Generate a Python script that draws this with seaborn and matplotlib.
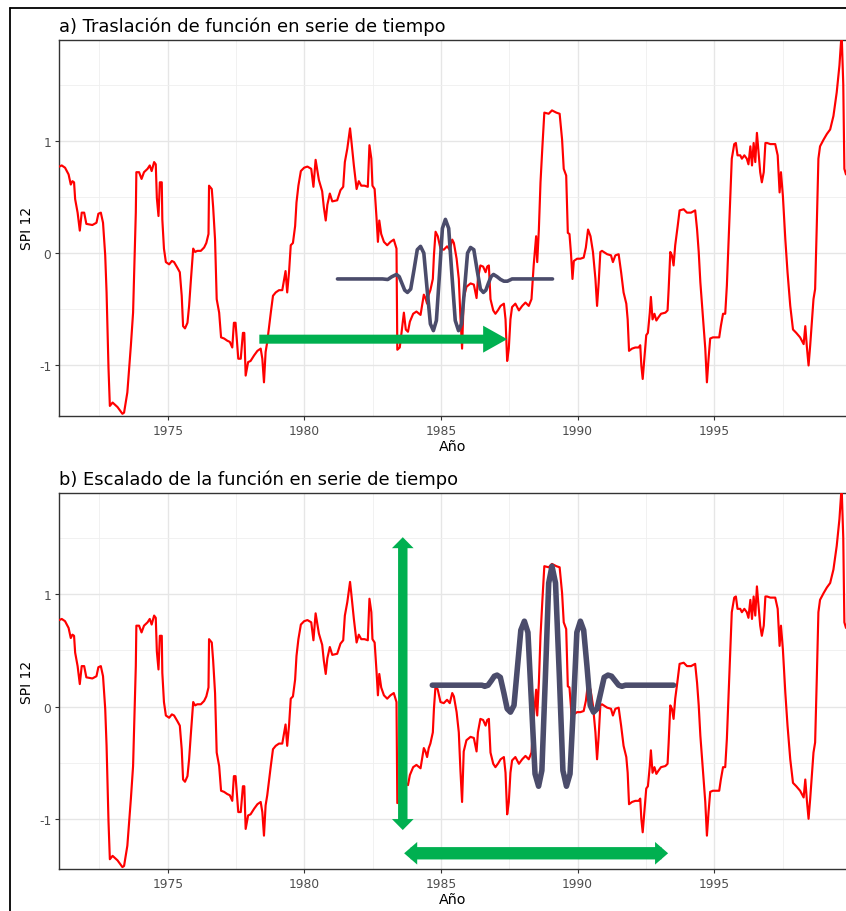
import matplotlib
matplotlib.use("Agg")
import matplotlib.pyplot as plt
import pandas as pd
import seaborn as sns
from matplotlib.patches import FancyArrowPatch, ArrowStyle
from matplotlib.lines import Line2D

# ---------------- data ----------------
spi_year = [
    1971.03, 1971.12, 1971.24, 1971.37, 1971.45, 1971.51, 1971.57, 1971.61, 1971.70, 1971.78,
    1971.85, 1971.94, 1972.02, 1972.24, 1972.39, 1972.46, 1972.55, 1972.63, 1972.71, 1972.76,
    1972.83, 1972.88, 1972.98, 1973.16, 1973.34, 1973.40, 1973.52, 1973.65, 1973.73, 1973.79,
    1973.83, 1973.85, 1973.95, 1974.04, 1974.13, 1974.26, 1974.34, 1974.41, 1974.50, 1974.56,
    1974.60, 1974.66, 1974.71, 1974.78, 1974.80, 1974.86, 1974.93, 1975.05, 1975.15, 1975.23,
    1975.35, 1975.44, 1975.51, 1975.56, 1975.63, 1975.72, 1975.78, 1975.84, 1975.93, 1976.00,
    1976.08, 1976.21, 1976.33, 1976.41, 1976.49, 1976.51, 1976.61, 1976.66, 1976.73, 1976.79,
    1976.88, 1976.95, 1977.06, 1977.18, 1977.27, 1977.36, 1977.42, 1977.48, 1977.58, 1977.67,
    1977.75, 1977.80, 1977.85, 1977.94, 1978.03, 1978.16, 1978.28, 1978.40, 1978.46, 1978.52,
    1978.58, 1978.64, 1978.77, 1978.85, 1978.95, 1979.07, 1979.19, 1979.31, 1979.37, 1979.44,
    1979.50, 1979.58, 1979.66, 1979.71, 1979.78, 1979.87, 1979.99, 1980.11, 1980.25, 1980.33,
    1980.41, 1980.53, 1980.65, 1980.71, 1980.78, 1980.84, 1980.93, 1981.02, 1981.20, 1981.32,
    1981.42, 1981.48, 1981.57, 1981.67, 1981.71, 1981.81, 1981.91, 1981.99, 1982.08, 1982.20,
    1982.32, 1982.38, 1982.45, 1982.49, 1982.57, 1982.64, 1982.69, 1982.74, 1982.81, 1982.91,
    1983.03, 1983.15, 1983.27, 1983.37, 1983.40, 1983.49, 1983.58, 1983.64, 1983.71, 1983.79,
    1983.86, 1983.98, 1984.10, 1984.25, 1984.37, 1984.43, 1984.49, 1984.55, 1984.61, 1984.70,
    1984.74, 1984.80, 1984.88, 1984.98, 1985.10, 1985.22, 1985.32, 1985.41, 1985.47, 1985.57,
    1985.65, 1985.71, 1985.77, 1985.83, 1985.93, 1986.08, 1986.20, 1986.30, 1986.35, 1986.44,
    1986.54, 1986.63, 1986.69, 1986.75, 1986.81, 1986.91, 1986.99, 1987.08, 1987.18, 1987.30,
    1987.36, 1987.42, 1987.48, 1987.54, 1987.60, 1987.72, 1987.85, 1987.97, 1988.09, 1988.21,
    1988.31, 1988.39, 1988.48, 1988.52, 1988.58, 1988.64, 1988.71, 1988.78, 1988.94, 1989.06,
    1989.22, 1989.34, 1989.43, 1989.49, 1989.58, 1989.64, 1989.70, 1989.76, 1989.81, 1989.86,
    1989.98, 1990.10, 1990.22, 1990.30, 1990.38, 1990.47, 1990.56, 1990.65, 1990.71, 1990.77,
    1990.83, 1990.89, 1991.08, 1991.22, 1991.29, 1991.38, 1991.50, 1991.59, 1991.68, 1991.78,
    1991.83, 1991.88, 1991.99, 1992.11, 1992.23, 1992.29, 1992.33, 1992.38, 1992.44, 1992.51,
    1992.57, 1992.64, 1992.68, 1992.74, 1992.81, 1992.88, 1992.96, 1993.05, 1993.21, 1993.29,
    1993.33, 1993.39, 1993.45, 1993.51, 1993.57, 1993.66, 1993.73, 1993.88, 1994.00, 1994.15,
    1994.30, 1994.37, 1994.43, 1994.49, 1994.58, 1994.67, 1994.73, 1994.79, 1994.85, 1994.95,
    1995.10, 1995.18, 1995.24, 1995.32, 1995.40, 1995.46, 1995.52, 1995.58, 1995.64, 1995.73,
    1995.79, 1995.85, 1995.95, 1996.01, 1996.10, 1996.19, 1996.25, 1996.32, 1996.38, 1996.44,
    1996.50, 1996.56, 1996.62, 1996.68, 1996.74, 1996.81, 1996.87, 1996.93, 1997.05, 1997.23,
    1997.32, 1997.39, 1997.44, 1997.51, 1997.60, 1997.68, 1997.78, 1997.88, 1998.00, 1998.14,
    1998.27, 1998.33, 1998.39, 1998.45, 1998.51, 1998.57, 1998.63, 1998.69, 1998.75, 1998.81,
    1998.87, 1999.00, 1999.12, 1999.24, 1999.36, 1999.48, 1999.58, 1999.66, 1999.72, 1999.76,
    1999.82,
]
spi_value = [
    0.77, 0.78, 0.76, 0.70, 0.61, 0.64, 0.63, 0.48, 0.36, 0.20,
    0.36, 0.36, 0.26, 0.25, 0.27, 0.35, 0.36, 0.27, -0.02, -0.35,
    -1.02, -1.36, -1.33, -1.37, -1.43, -1.42, -1.24, -0.82, -0.53, 0.00,
    0.36, 0.72, 0.72, 0.66, 0.72, 0.75, 0.78, 0.73, 0.81, 0.79,
    0.49, 0.33, 0.63, 0.63, 0.30, 0.04, -0.08, -0.10, -0.07, -0.08,
    -0.13, -0.17, -0.38, -0.65, -0.67, -0.62, -0.47, -0.26, 0.04, 0.01,
    0.02, 0.02, 0.05, 0.09, 0.17, 0.60, 0.57, 0.41, 0.12, -0.41,
    -0.53, -0.75, -0.76, -0.78, -0.79, -0.84, -0.62, -0.62, -0.94, -0.94,
    -0.71, -0.71, -1.09, -0.97, -0.96, -0.91, -0.87, -0.85, -0.94, -1.15,
    -0.88, -0.79, -0.53, -0.38, -0.35, -0.33, -0.33, -0.16, -0.35, -0.16,
    0.07, 0.09, 0.24, 0.45, 0.60, 0.73, 0.76, 0.77, 0.75, 0.59,
    0.83, 0.65, 0.55, 0.41, 0.29, 0.43, 0.53, 0.46, 0.47, 0.56,
    0.59, 0.81, 0.93, 1.11, 1.02, 0.78, 0.57, 0.64, 0.60, 0.60,
    0.59, 0.96, 0.84, 0.60, 0.57, 0.31, 0.10, 0.29, 0.17, 0.10,
    0.07, 0.10, 0.12, 0.04, -0.86, -0.84, -0.65, -0.53, -0.68, -0.70,
    -0.61, -0.54, -0.52, -0.55, -0.37, -0.40, -0.45, -0.37, -0.33, -0.23,
    -0.02, 0.19, 0.15, 0.04, 0.03, 0.06, 0.03, 0.12, 0.09, -0.05,
    -0.23, -0.57, -0.85, -0.40, -0.30, -0.27, -0.28, -0.40, -0.23, -0.11,
    -0.12, -0.17, -0.12, -0.11, -0.41, -0.51, -0.54, -0.51, -0.47, -0.45,
    -0.59, -0.96, -0.85, -0.59, -0.48, -0.45, -0.51, -0.47, -0.44, -0.47,
    -0.41, -0.11, 0.15, -0.08, 0.21, 0.63, 0.95, 1.25, 1.24, 1.27,
    1.25, 1.24, 1.01, 0.75, 0.69, 0.18, 0.17, -0.02, -0.23, -0.07,
    -0.05, -0.05, -0.04, 0.05, 0.21, 0.15, 0.01, -0.23, -0.47, -0.26,
    0.01, 0.02, -0.01, -0.02, -0.08, -0.02, -0.01, -0.17, -0.35, -0.45,
    -0.59, -0.87, -0.85, -0.84, -0.84, -0.82, -1.00, -1.12, -0.94, -0.73,
    -0.71, -0.53, -0.39, -0.59, -0.54, -0.60, -0.57, -0.54, -0.53, -0.51,
    -0.32, 0.01, -0.02, -0.11, 0.07, 0.24, 0.38, 0.39, 0.36, 0.36,
    0.38, 0.21, 0.01, -0.26, -0.56, -0.85, -1.15, -0.94, -0.76, -0.75,
    -0.75, -0.75, -0.65, -0.54, -0.54, -0.29, 0.09, 0.48, 0.84, 0.97,
    0.98, 0.87, 0.87, 0.84, 0.87, 0.84, 0.79, 0.95, 0.78, 0.98,
    0.81, 1.07, 0.89, 0.72, 0.63, 0.72, 0.98, 0.98, 0.97, 0.97,
    0.87, 0.54, 0.72, 0.51, 0.12, -0.17, -0.47, -0.68, -0.71, -0.75,
    -0.81, -0.65, -0.84, -1.00, -0.82, -0.62, -0.41, -0.32, 0.24, 0.84,
    0.95, 1.01, 1.06, 1.10, 1.22, 1.43, 1.67, 1.96, 1.50, 0.75,
    0.70,
]

# wavelet, panel a (translated)
wav_a_year = [
    1981.21, 1982.86, 1983.05, 1983.20, 1983.37, 1983.47, 1983.57, 1983.67, 1983.77,
    1983.89, 1984.01, 1984.13, 1984.25, 1984.37, 1984.49, 1984.61, 1984.72,
    1984.83, 1984.94, 1985.05, 1985.16, 1985.28, 1985.40, 1985.52, 1985.64,
    1985.75, 1985.86, 1985.97, 1986.08, 1986.20, 1986.32, 1986.44, 1986.55,
    1986.64, 1986.73, 1986.83, 1986.92, 1987.05, 1987.18, 1987.30, 1987.43,
    1987.60, 1989.08,
]
wav_a_value = [
    -0.23, -0.23, -0.235, -0.21, -0.19, -0.21, -0.27, -0.33, -0.35,
    -0.32, -0.15, 0.03, 0.06, 0.00, -0.32, -0.63, -0.69,
    -0.60, -0.20, 0.22, 0.30, 0.22, -0.20, -0.60, -0.69,
    -0.63, -0.32, 0.00, 0.05, 0.03, -0.15, -0.32, -0.35,
    -0.33, -0.27, -0.21, -0.19, -0.21, -0.235, -0.25, -0.25,
    -0.23, -0.23,
]

# wavelet, panel b (scaled)
wav_b_year = [
    1984.68, 1986.50, 1986.60, 1986.72, 1986.84, 1986.95, 1987.05, 1987.17, 1987.30,
    1987.42, 1987.54, 1987.67, 1987.80, 1987.92, 1988.05, 1988.18, 1988.31, 1988.44,
    1988.57, 1988.69, 1988.82, 1988.94, 1989.06, 1989.19, 1989.33, 1989.46, 1989.59,
    1989.72, 1989.85, 1989.97, 1990.10, 1990.22, 1990.34, 1990.46, 1990.58, 1990.71,
    1990.84, 1990.97, 1991.11, 1991.24, 1991.37, 1991.50, 1991.62, 1991.75, 1993.51,
]
wav_b_value = [
    0.19, 0.19, 0.18, 0.19, 0.23, 0.27, 0.28, 0.26, 0.12,
    -0.02, -0.05, 0.01, 0.36, 0.68, 0.76, 0.66, 0.03, -0.60,
    -0.71, -0.57, 0.27, 1.10, 1.25, 1.10, 0.27, -0.57, -0.71,
    -0.60, 0.03, 0.66, 0.76, 0.68, 0.36, 0.01, -0.05, -0.02,
    0.12, 0.26, 0.28, 0.27, 0.23, 0.19, 0.18, 0.19, 0.19,
]

panel_titles = ["a) Traslación de función en serie de tiempo",
                "b) Escalado de la función en serie de tiempo"]
x_label = "Año"
y_label = "SPI 12"
x_major = [1975, 1980, 1985, 1990, 1995]
x_minor = [1972.5, 1977.5, 1982.5, 1987.5, 1992.5, 1997.5]
y_major = [-1, 0, 1]
y_minor = [-0.5, 0.5, 1.5]
x_range = (1971.03, 1999.82)
y_range = (-1.447, 1.899)

# annotation arrows (data coordinates)
arrow_a = (1978.35, -0.766, 1987.42, -0.766)          # x0, y, x1, y
arrow_b_vertical = (1983.60, -1.100, 1.508)           # x, y_bottom, y_top
arrow_b_horizontal = (-1.307, 1983.65, 1993.31)       # y, x_left, x_right

# ---------------- styling ----------------
sns.set_theme(style="white")
plt.rcParams["font.family"] = ["DejaVu Sans"]

RED = "#ff0000"
WAVE = "#4b4c6b"
GREEN = "#00b050"

W, H = 846, 912
DPI = 100
fig = plt.figure(figsize=(W / DPI, H / DPI), dpi=DPI)

left_px = 59.3
panels_px = [(40.7, 416.7), (494.3, 870.0)]
axes = []
for top, bottom in panels_px:
    ax = fig.add_axes([left_px / W, 1 - bottom / H, 1 - left_px / W, (bottom - top) / H])
    axes.append(ax)

df_spi = pd.DataFrame({"year": spi_year, "spi": spi_value})
df_wa = pd.DataFrame({"year": wav_a_year, "value": wav_a_value})
df_wb = pd.DataFrame({"year": wav_b_year, "value": wav_b_value})

for i, ax in enumerate(axes):
    ax.set_facecolor("white")
    sns.lineplot(data=df_spi, x="year", y="spi", ax=ax, color=RED, linewidth=1.55,
                 estimator=None, sort=False, zorder=3)
    if i == 0:
        sns.lineplot(data=df_wa, x="year", y="value", ax=ax, color=WAVE, linewidth=2.6,
                     estimator=None, sort=False, zorder=4)
    else:
        sns.lineplot(data=df_wb, x="year", y="value", ax=ax, color=WAVE, linewidth=4.0,
                     estimator=None, sort=False, zorder=4)

    ax.set_xlim(*x_range)
    ax.set_ylim(*y_range)
    ax.set_xticks(x_major)
    ax.set_xticks(x_minor, minor=True)
    ax.set_yticks(y_major)
    ax.set_yticks(y_minor, minor=True)
    ax.set_yticklabels([str(v) for v in y_major])
    ax.grid(True, which="major", color="#e6e6e6", linewidth=1.0, zorder=0)
    ax.grid(True, which="minor", color="#efefef", linewidth=0.6, zorder=0)
    ax.set_axisbelow(True)

    for side in ["left", "bottom", "top"]:
        ax.spines[side].set_visible(True)
        ax.spines[side].set_color("#333333")
        ax.spines[side].set_linewidth(1.0)
    ax.spines["right"].set_visible(False)

    ax.tick_params(axis="both", which="major", length=3.2, width=0.8, color="#333333",
                   labelsize=8.8, labelcolor="#4d4d4d", pad=2.6,
                   bottom=True, left=True, top=False, right=False)
    ax.tick_params(axis="both", which="minor", length=0)

    ax.set_xlabel(x_label, fontsize=10.3, color="black")
    ax.xaxis.set_label_coords(0.5, -30.3 / 376)
    ax.xaxis.label.set_va("center")
    ax.set_ylabel(y_label, fontsize=10.0, color="black")
    ax.yaxis.set_label_coords(-31.8 / 786.7, 0.5)
    ax.yaxis.label.set_va("center")

    top_px = panels_px[i][0]
    fig.text(left_px / W, 1 - (top_px - 9.0) / H, panel_titles[i], ha="left",
             va="baseline", fontsize=12.9, color="black")


def simple_arrow(ax, p0, p1, head_len, head_w, tail_w):
    style = ArrowStyle.Simple(head_length=head_len, head_width=head_w, tail_width=tail_w)
    arr = FancyArrowPatch(p0, p1, arrowstyle=style, mutation_scale=1, color=GREEN,
                          linewidth=0, shrinkA=0, shrinkB=0, transform=ax.transData,
                          zorder=6, clip_on=False)
    ax.add_patch(arr)


def pts_to_data_dx(ax, pts):
    # horizontal size of `pts` points in data units
    px = pts * DPI / 72.0
    (x_a, _), (x_b, _) = ax.transData.inverted().transform([(0, 0), (px, 0)])
    return x_b - x_a


def pts_to_data_dy(ax, pts):
    px = pts * DPI / 72.0
    (_, y_a), (_, y_b) = ax.transData.inverted().transform([(0, 0), (0, px)])
    return y_b - y_a


# panel a: single-headed arrow
x0, ya, x1, _ = arrow_a
simple_arrow(axes[0], (x0, ya), (x1, ya), 17.3, 19.4, 6.5)

# panel b: double-headed arrows; each tail ends hidden under the opposite head
xv, yb, yt = arrow_b_vertical
hl_v = 7.9
dv = pts_to_data_dy(axes[1], hl_v * 0.5)
simple_arrow(axes[1], (xv, yb + dv), (xv, yt), hl_v, 15.6, 6.5)
simple_arrow(axes[1], (xv, yt - dv), (xv, yb), hl_v, 15.6, 6.5)

yh, xl, xr = arrow_b_horizontal
hl_h = 9.4
dh = pts_to_data_dx(axes[1], hl_h * 0.5)
simple_arrow(axes[1], (xl + dh, yh), (xr, yh), hl_h, 16.3, 8.6)
simple_arrow(axes[1], (xr - dh, yh), (xl, yh), hl_h, 16.3, 8.6)

# outer border (left and top visible, the rest is cropped)
bx = 9.5 / W
by = 1 - 8.5 / H
fig.add_artist(Line2D([bx, bx], [0, by], transform=fig.transFigure, color="black", linewidth=1.3))
fig.add_artist(Line2D([bx, 1], [by, by], transform=fig.transFigure, color="black", linewidth=1.3))

fig.savefig("out.png", dpi=DPI, facecolor="white")
